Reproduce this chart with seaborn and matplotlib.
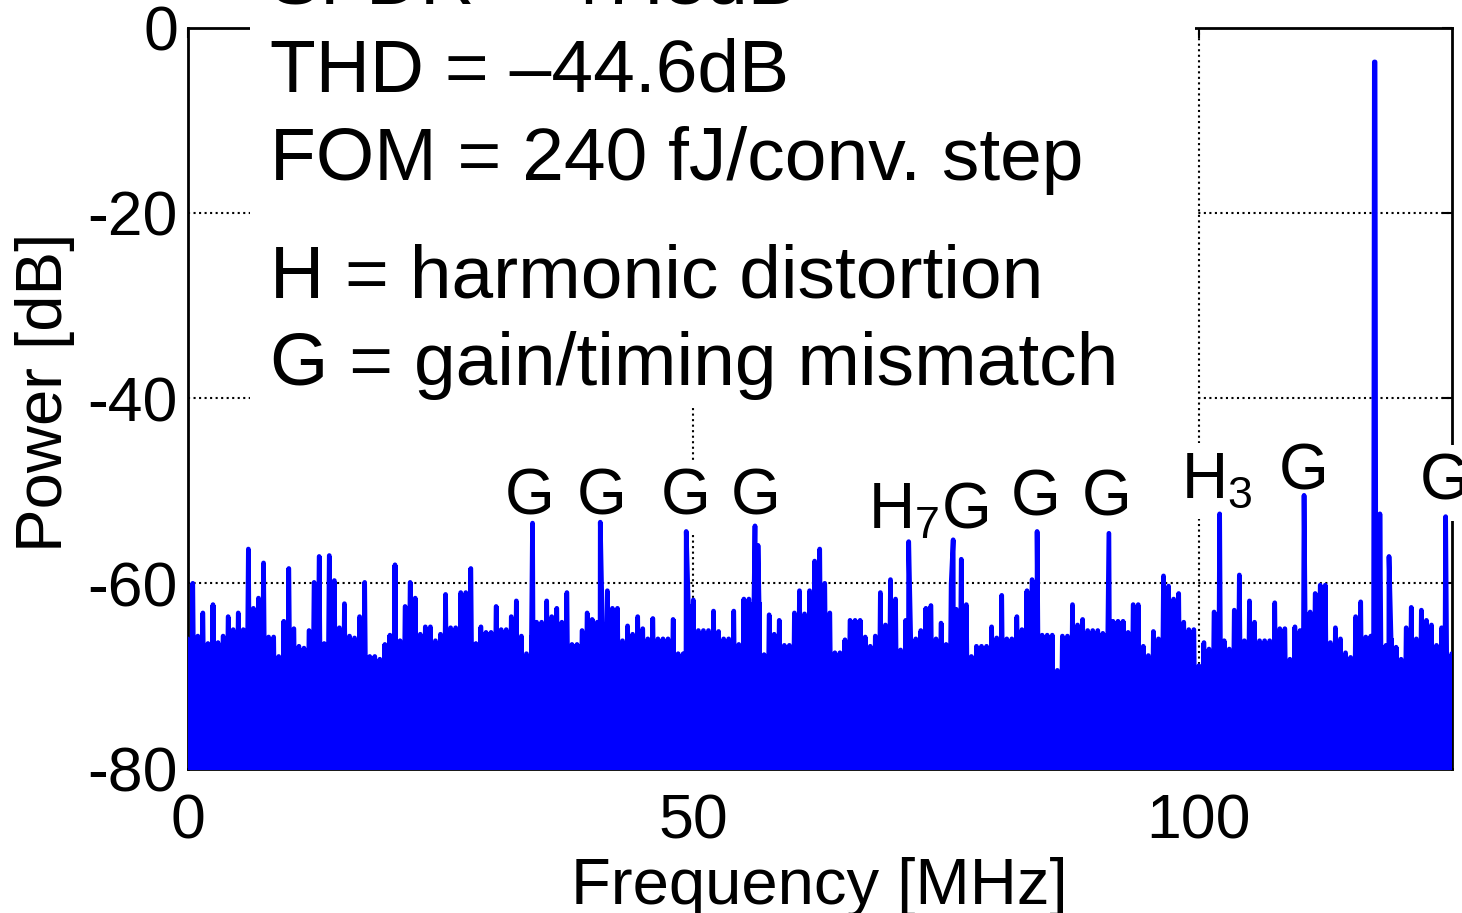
import numpy as np
import pandas as pd
import matplotlib
matplotlib.use('Agg')
import matplotlib.pyplot as plt
import seaborn as sns
from matplotlib.patches import Rectangle

# noise floor envelope, one value per 0.5 MHz from 0 to 125 MHz
floor_step_mhz = 0.5
floor_db = [
    -66.0, -60.0, -65.7, -63.2, -66.5, -62.3, -66.4, -65.7, -63.6, -65.0,  # 0-4.5
    -63.2, -65.0, -56.3, -62.7, -61.6, -57.8, -65.8, -65.8, -67.9, -64.1,  # 5-9.5
    -58.4, -64.9, -66.8, -67.0, -65.1, -59.9, -57.1, -66.5, -57.0, -59.7,  # 10-14.5
    -64.8, -62.2, -65.7, -65.9, -63.6, -59.9, -67.9, -67.9, -68.2, -66.6,  # 15-19.5
    -65.6, -58.0, -66.2, -62.5, -59.9, -61.6, -65.5, -64.7, -64.7, -66.2,  # 20-24.5
    -65.5, -61.2, -64.8, -64.8, -61.0, -61.0, -58.4, -66.5, -64.7, -65.3,  # 25-29.5
    -65.3, -62.5, -65.0, -65.0, -63.6, -61.9, -65.7, -67.6, -65.6, -64.2,  # 30-34.5
    -64.2, -61.9, -63.6, -62.7, -64.2, -61.0, -66.6, -66.6, -65.1, -63.2,  # 35-39.5
    -63.9, -64.2, -64.2, -60.8, -62.7, -62.7, -66.2, -64.6, -65.5, -63.6,  # 40-44.5
    -64.9, -66.0, -63.8, -66.0, -66.0, -66.0, -63.9, -67.6, -67.6, -62.2,  # 45-49.5
    -61.8, -65.1, -65.1, -65.1, -63.0, -65.2, -66.0, -66.0, -63.0, -66.6,  # 50-54.5
    -61.7, -61.7, -62.0, -62.0, -67.7, -63.4, -65.5, -64.0, -66.7, -66.7,  # 55-59.5
    -63.2, -60.8, -63.3, -60.8, -57.6, -56.3, -60.0, -63.2, -67.5, -67.5,  # 60-64.5
    -66.1, -64.0, -64.0, -64.0, -65.8, -66.8, -65.7, -61.0, -64.5, -59.6,  # 65-69.5
    -61.7, -67.2, -64.0, -66.0, -66.0, -65.1, -62.7, -62.4, -66.0, -64.3,  # 70-74.5
    -66.6, -60.1, -62.8, -57.4, -62.3, -67.9, -66.8, -66.8, -66.8, -64.7,  # 75-79.5
    -65.9, -61.3, -66.0, -66.0, -63.6, -65.0, -60.8, -59.6, -62.0, -65.6,  # 80-84.5
    -65.6, -65.6, -69.4, -65.7, -65.7, -62.3, -64.5, -63.9, -65.1, -65.1,  # 85-89.5
    -65.1, -65.4, -65.4, -64.1, -64.1, -64.1, -65.3, -62.3, -62.3, -66.8,  # 90-94.5
    -67.8, -65.2, -66.0, -59.2, -60.3, -61.7, -61.1, -64.2, -65.0, -65.0,  # 95-99.5
    -68.9, -66.4, -67.1, -63.1, -64.0, -66.2, -67.1, -62.9, -59.1, -66.2,  # 100-104.5
    -61.9, -64.2, -66.2, -66.2, -66.2, -62.1, -64.9, -64.9, -68.2, -64.7,  # 105-109.5
    -65.1, -63.1, -63.1, -61.1, -60.2, -60.2, -66.4, -64.8, -66.0, -67.5,  # 110-114.5
    -68.0, -63.6, -62.0, -65.8, -65.7, -66.0, -66.7, -66.7, -65.9, -66.9,  # 115-119.5
    -68.2, -64.8, -62.6, -66.0, -62.9, -64.0, -64.5, -66.7, -64.8, -67.6,  # 120-124.5
    -67.6,                                                                 # 125
]
floor_freq = np.arange(len(floor_db)) * floor_step_mhz

# narrow spurs and the input tone
spur_freq = [34.1, 40.8, 49.3, 56.1, 56.4, 71.3, 75.7, 84.0, 91.1, 102.05,
             110.4, 117.35, 117.42, 117.9, 118.8, 124.4]
spur_db = [-53.5, -53.4, -54.4, -53.8, -55.9, -55.5, -55.3, -54.4, -54.6, -52.5,
           -50.5, -3.7, -3.7, -52.5, -57.1, -52.8]

# the trace swings below the -80 dB limit between bins
trace_bottom_db = -90

# spur labels
label_text = ['G', 'G', 'G', 'G', r'H$_7$G', 'G', 'G', r'H$_3$', 'G', 'G']
label_freq = [33.8, 40.9, 49.2, 56.2, 73.2, 83.9, 90.9, 101.8, 110.4, 124.3]
label_db = [-52.6, -52.6, -52.6, -52.6, -54.1, -52.7, -52.7, -50.8, -49.9, -51.0]

info_lines = ['SFDR = 47.3dB', 'THD = \u201344.6dB', 'FOM = 240 fJ/conv. step',
              'H = harmonic distortion', 'G = gain/timing mismatch']

# build the zig-zag trace
rows = []
for f, v in zip(floor_freq, floor_db):
    rows.append((f, v))
    rows.append((f + floor_step_mhz / 2, trace_bottom_db))
for f, v in zip(spur_freq, spur_db):
    rows.append((f, v))
trace = pd.DataFrame(rows, columns=['freq', 'db'])
trace = trace.sort_values('freq', kind='mergesort').reset_index(drop=True)

sns.set_style('white')
plt.rcParams['font.family'] = ['Liberation Sans', 'DejaVu Sans']
plt.rcParams['mathtext.default'] = 'regular'
plt.rcParams['axes.unicode_minus'] = False
plt.rcParams['text.color'] = 'black'
plt.rcParams['axes.labelcolor'] = 'black'
plt.rcParams['xtick.color'] = 'black'
plt.rcParams['ytick.color'] = 'black'

W, H = 1462, 913
fig = plt.figure(figsize=(W / 100, H / 100), dpi=100)
ax = fig.add_axes([187.7 / W, 1 - 768.5 / H, (1451.7 - 187.7) / W, (768.5 - 27.7) / H])

blue = '#0000ff'
# solid body under the envelope, then the trace itself on top
ax.fill_between(floor_freq, floor_db, trace_bottom_db, step='mid', color=blue,
                linewidth=0, zorder=4)
sns.lineplot(data=trace, x='freq', y='db', sort=False, estimator=None,
             color=blue, linewidth=3.4, ax=ax, zorder=4)

ax.set_xlim(0, 125)
ax.set_ylim(-80, 0)
ax.set_xticks([0, 50, 100])
ax.set_yticks([-80, -60, -40, -20, 0])
ax.grid(True, linestyle=':', color='black', linewidth=1.5)
ax.set_axisbelow(True)
for s in ax.spines.values():
    s.set_linewidth(2)
    s.set_color('black')
ax.tick_params(direction='in', length=7, width=1.5, top=True, right=True,
               labelsize=45, colors='black')
ax.tick_params(axis='x', pad=17)
ax.tick_params(axis='y', pad=7)

ax.set_xlabel('Frequency [MHz]', fontsize=47, color='black')
ax.set_ylabel('Power [dB]', fontsize=47, color='black')
ax.xaxis.set_label_coords(0.5, -0.119)
ax.yaxis.set_label_coords(-0.089, 0.508)

for t, f, d in zip(label_text, label_freq, label_db):
    ax.text(f, d, t, ha='center', va='baseline', fontsize=46, zorder=3, clip_on=False,
            color='black',
            bbox=dict(boxstyle='square,pad=0.12', fc='white', ec='none'))

# white panel behind the figures of merit
fig.add_artist(Rectangle((250 / W, 1 - 405 / H), (1195 - 250) / W, 405 / H,
                         transform=fig.transFigure, fc='white', ec='none', zorder=5))
for line, base in zip(info_lines, [3, 92, 180, 297, 385]):
    fig.text(270 / W, 1 - base / H, line, fontsize=54, ha='left', va='baseline',
             color='black', zorder=6)

fig.savefig('out.png', dpi=100)
